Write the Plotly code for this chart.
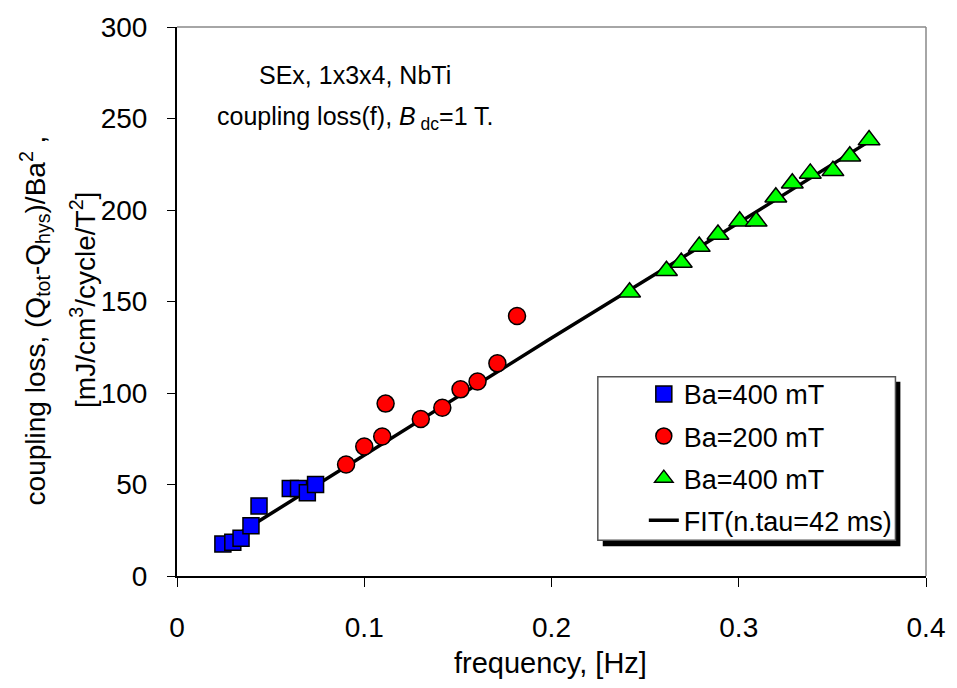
import plotly.graph_objects as go

# ---- data ----
sq_f = [0.0245, 0.0298, 0.0342, 0.0395, 0.0438, 0.0605, 0.0649, 0.0696, 0.0740]
sq_y = [17.5, 18.4, 20.6, 27.5, 38.3, 47.8, 47.8, 45.5, 50.0]

ci_f = [0.0903, 0.1000, 0.1096, 0.1114, 0.1302, 0.1417, 0.1514, 0.1605, 0.1711, 0.1816]
ci_y = [60.9, 70.8, 76.2, 94.2, 85.8, 91.9, 102.0, 106.3, 116.2, 142.1]

tr_f = [0.2417, 0.2614, 0.2693, 0.2789, 0.2889, 0.3005, 0.3093, 0.3198, 0.3286,
        0.3382, 0.3503, 0.3593, 0.3696]
tr_y = [155.1, 166.8, 171.3, 180.0, 186.6, 193.8, 193.8, 207.0, 214.6,
        220.0, 221.4, 229.4, 238.2]

fit_f = [0.025, 0.10, 0.20, 0.30, 0.372]
fit_y = [18.0, 66.0, 130.0, 193.0, 239.0]

x_ticks = [0, 0.1, 0.2, 0.3, 0.4]
x_ticklabels = ["0", "0.1", "0.2", "0.3", "0.4"]
y_ticks = [0, 50, 100, 150, 200, 250, 300]

FONT = "Liberation Sans, Arial, sans-serif"

# layout geometry (pixels)
W, H = 957, 688
L, R, T, B = 177, 20, 22, 112
PW, PH = W - L - R, H - T - B


def px(x):
    return (x - L) / PW


def py(y):
    return (H - B - y) / PH


fig = go.Figure()

fig.add_trace(go.Scatter(
    x=fit_f, y=fit_y, mode="lines", name="FIT(n.tau=42 ms)",
    line=dict(color="black", width=3.5), legendgroup="d", legendrank=4))

fig.add_trace(go.Scatter(
    x=sq_f, y=sq_y, mode="markers", name="Ba=400 mT", legendgroup="a", legendrank=1,
    marker=dict(symbol="square", size=16, color="#0000FF",
                line=dict(color="black", width=1.5))))

fig.add_trace(go.Scatter(
    x=ci_f, y=ci_y, mode="markers", name="Ba=200 mT", legendgroup="b", legendrank=2,
    marker=dict(symbol="circle", size=17, color="#FF0000",
                line=dict(color="black", width=1.5))))

fig.add_trace(go.Scatter(
    x=tr_f, y=tr_y, mode="markers", name="Ba=400 mT", legendgroup="c", legendrank=3,
    marker=dict(symbol="triangle-up", size=19, color="#00FF00",
                line=dict(color="black", width=1.5))))

# legend frame + shadow
shapes = [
    dict(type="rect", xref="paper", yref="paper", layer="above",
         x0=px(609), x1=px(911), y0=py(546), y1=py(380),
         fillcolor="black", line=dict(width=0)),
    dict(type="rect", xref="paper", yref="paper", layer="above",
         x0=px(604), x1=px(906), y0=py(540), y1=py(375),
         fillcolor="white", line=dict(color="#555555", width=1.5)),
    # gray top / right frame
    dict(type="line", xref="paper", yref="paper", x0=0, x1=1, y0=1, y1=1,
         line=dict(color="#888888", width=1.5)),
    dict(type="line", xref="paper", yref="paper", x0=1, x1=1, y0=0, y1=1,
         line=dict(color="#888888", width=1.5)),
]

annotations = [
    dict(text="SEx, 1x3x4, NbTi", xref="paper", yref="paper",
         x=px(358), y=py(70), showarrow=False, xanchor="center", yanchor="middle",
         font=dict(size=25, color="black", family=FONT)),
    dict(text="coupling loss(f), <i>B</i><sub> dc</sub>=1 T.", xref="paper", yref="paper",
         x=px(358), y=py(114), showarrow=False, xanchor="center", yanchor="middle",
         font=dict(size=25, color="black", family=FONT)),
    dict(text="frequency, [Hz]", xref="paper", yref="paper",
         x=px(556), y=py(664), showarrow=False, xanchor="center", yanchor="middle",
         font=dict(size=29, color="black", family=FONT)),
    dict(text="coupling loss, (Q<sub>tot</sub>-Q<sub>hys</sub>)/Ba<sup>2</sup> ,",
         xref="paper", yref="paper", x=px(33), y=py(318), textangle=-90,
         showarrow=False, xanchor="center", yanchor="middle",
         font=dict(size=28, color="black", family=FONT)),
    dict(text="[mJ/cm<sup>3</sup>/cycle/T<sup>2</sup>]",
         xref="paper", yref="paper", x=px(81), y=py(297), textangle=-90,
         showarrow=False, xanchor="center", yanchor="middle",
         font=dict(size=28, color="black", family=FONT)),
]

fig.update_layout(
    width=W, height=H,
    margin=dict(l=L, r=R, t=T, b=B),
    paper_bgcolor="white", plot_bgcolor="white",
    font=dict(family=FONT, color="black"),
    showlegend=True,
    legend=dict(x=px(604), y=py(368), xanchor="left", yanchor="top",
                bgcolor="rgba(0,0,0,0)", borderwidth=0,
                font=dict(size=27, color="black", family=FONT),
                tracegroupgap=4, indentation=46, traceorder="grouped"),
    xaxis=dict(range=[0, 0.4], tickvals=x_ticks, ticktext=x_ticklabels,
               showgrid=False, zeroline=False, showline=True,
               linecolor="black", linewidth=2, ticks="outside", ticklen=9,
               tickcolor="black", tickwidth=1.2, ticklabelstandoff=16,
               tickfont=dict(size=28, color="black", family=FONT)),
    yaxis=dict(range=[0, 300], tickvals=y_ticks,
               showgrid=False, zeroline=False, showline=True,
               linecolor="black", linewidth=2, ticks="outside", ticklen=8,
               tickcolor="black", tickwidth=1.2, ticklabelstandoff=14,
               tickfont=dict(size=28, color="black", family=FONT)),
    xaxis2=dict(range=[0, 0.4], overlaying="x", anchor="y", side="bottom",
                tickvals=x_ticks, ticks="inside", ticklen=9, tickcolor="black",
                tickwidth=1.2, showticklabels=False, showgrid=False,
                zeroline=False, showline=False),
    yaxis2=dict(range=[0, 300], overlaying="y", anchor="x", side="left",
                tickvals=y_ticks, ticks="inside", ticklen=8, tickcolor="black",
                tickwidth=1.2, showticklabels=False, showgrid=False,
                zeroline=False, showline=False),
    shapes=shapes,
    annotations=annotations,
)

fig.write_html("out.html")
